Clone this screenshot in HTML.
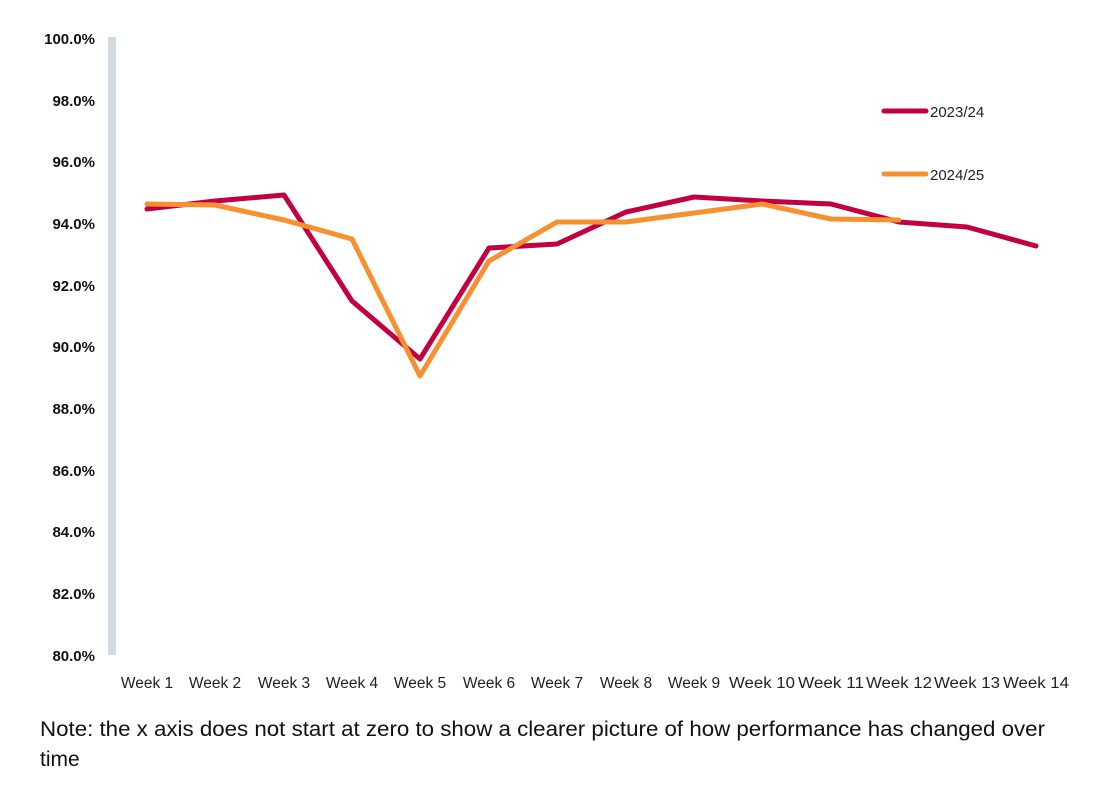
<!DOCTYPE html>
<html><head><meta charset="utf-8"><style>
body{margin:0;background:#fff;}
svg{display:block;}
</style></head><body>
<svg width="1110" height="795" xmlns="http://www.w3.org/2000/svg">
<rect x="108" y="37" width="8" height="618" fill="#d2dbe1"/>
<g font-family="Liberation Sans, sans-serif" font-size="15" font-weight="bold" fill="#111" text-anchor="end">
<text x="95" y="44">100.0%</text>
<text x="95" y="106">98.0%</text>
<text x="95" y="167">96.0%</text>
<text x="95" y="229">94.0%</text>
<text x="95" y="291">92.0%</text>
<text x="95" y="352">90.0%</text>
<text x="95" y="414">88.0%</text>
<text x="95" y="476">86.0%</text>
<text x="95" y="537">84.0%</text>
<text x="95" y="599">82.0%</text>
<text x="95" y="661">80.0%</text>
</g>
<g font-family="Liberation Sans, sans-serif" font-size="15.5" fill="#222" text-anchor="middle">
<text x="147" y="688">Week 1</text>
<text x="215" y="688">Week 2</text>
<text x="284" y="688">Week 3</text>
<text x="352" y="688">Week 4</text>
<text x="420" y="688">Week 5</text>
<text x="489" y="688">Week 6</text>
<text x="557" y="688">Week 7</text>
<text x="626" y="688">Week 8</text>
<text x="694" y="688">Week 9</text>
<text x="762" y="688" textLength="66" lengthAdjust="spacingAndGlyphs">Week 10</text>
<text x="831" y="688" textLength="66" lengthAdjust="spacingAndGlyphs">Week 11</text>
<text x="899" y="688" textLength="66" lengthAdjust="spacingAndGlyphs">Week 12</text>
<text x="967" y="688" textLength="66" lengthAdjust="spacingAndGlyphs">Week 13</text>
<text x="1036" y="688" textLength="66" lengthAdjust="spacingAndGlyphs">Week 14</text>
</g>
<polyline fill="none" stroke="#c20041" stroke-width="5" stroke-linejoin="round" stroke-linecap="round"
 points="147,209 215,201 284,195 352,301 420,359 489,248 557,244 626,212 694,197 762,201 831,204 899,222 967,227 1036,246"/>
<polyline fill="none" stroke="#f7902f" stroke-width="5" stroke-linejoin="round" stroke-linecap="round"
 points="147,204 215,205 284,220 352,239 420,376 489,261 557,222 626,222 694,213 762,204 831,219 899,220"/>
<line x1="884" y1="111" x2="926" y2="111" stroke="#c20041" stroke-width="5" stroke-linecap="round"/>
<line x1="884" y1="174" x2="926" y2="174" stroke="#f7902f" stroke-width="5" stroke-linecap="round"/>
<g font-family="Liberation Sans, sans-serif" font-size="15" fill="#222">
<text x="930" y="117">2023/24</text>
<text x="930" y="180">2024/25</text>
</g>
<g font-family="Liberation Sans, sans-serif" font-size="21" fill="#111">
<text x="40" y="736" textLength="1005" lengthAdjust="spacingAndGlyphs">Note: the x axis does not start at zero to show a clearer picture of how performance has changed over</text>
<text x="40" y="766">time</text>
</g>
</svg>
</body></html>
